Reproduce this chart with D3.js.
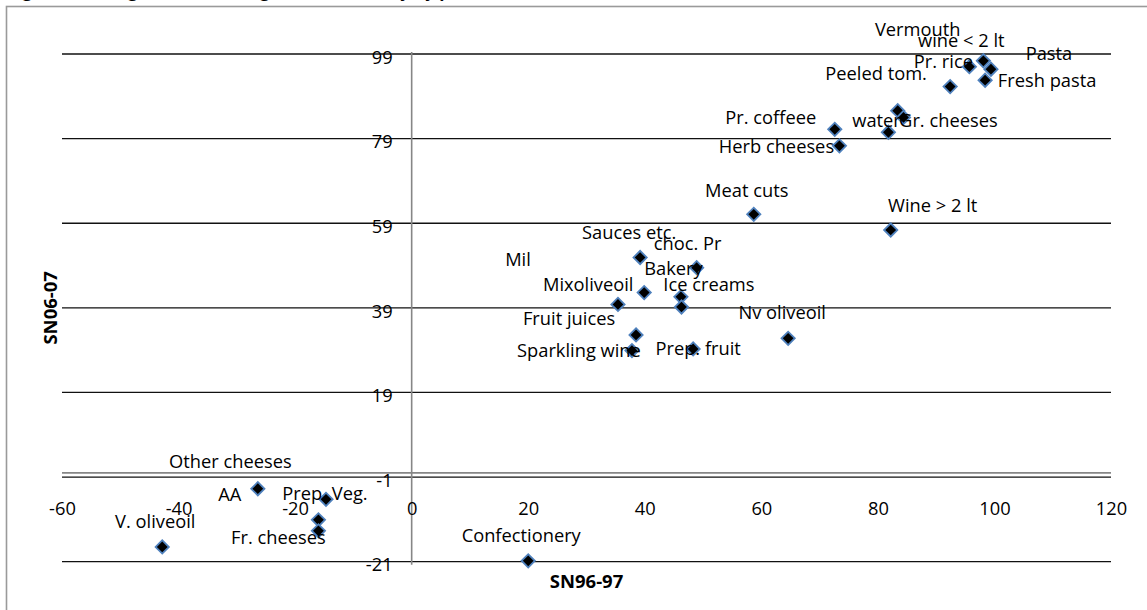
<!DOCTYPE html>
<html>
<head>
<meta charset="utf-8">
<script src="https://cdn.jsdelivr.net/npm/d3@7"></script>
<style>
  body { margin: 0; background: #fff; }
  svg { display: block; }
  text { font-family: "Open Sans", "Liberation Sans", sans-serif; fill: #000; }
</style>
</head>
<body>
<svg id="chart" width="1147" height="610"></svg>
<script>
// Products and their Strength of Nationality scores in the two periods
const products = [
  "wine < 2 lt", "Pr. rice", "Pasta", "Fresh pasta", "Peeled tom.",
  "Vermouth", "water", "Gr. cheeses", "Pr. coffeee", "Herb cheeses",
  "Meat cuts", "Wine > 2 lt", "Sauces etc.", "choc. Pr", "Mixoliveoil",
  "Mil", "Ice creams", "Bakery", "Nv oliveoil", "Fruit juices",
  "Sparkling wine", "Prep. fruit", "AA", "Prep. Veg.", "Other cheeses",
  "Fr. cheeses", "V. oliveoil", "Confectionery"
];
const sn9697 = [
  98.1, 95.7, 99.4, 98.4, 92.4,
  83.4, 84.4, 81.8, 72.6, 73.4,
  58.7, 82.2, 39.2, 48.9, 39.9,
  35.4, 46.2, 46.3, 64.6, 38.5,
  37.8, 48.3, -26.4, -14.7, -16.0,
  -16.0, -42.8, 20.0
];
const sn0607 = [
  97.4, 96.0, 95.4, 92.8, 91.3,
  85.6, 84.0, 80.5, 81.2, 77.3,
  61.1, 57.4, 50.9, 48.5, 42.6,
  39.8, 41.6, 39.2, 31.8, 32.6,
  28.9, 29.3, -3.75, -6.25, -11.1,
  -13.7, -17.5, -20.8
];

// Axis ticks
const xTicks = [-60, -40, -20, 0, 20, 40, 60, 80, 100, 120];
const yTicks = [-21, -1, 19, 39, 59, 79, 99];

// Hand placement of each point label relative to its marker (px)
const labelNudge = [
  [-22, -21], [-26, -6], [58, -17], [62, -1], [-74, -14],
  [20, -82], [-27, 2], [60, -13], [-64, -13], [-63, 0],
  [-7, -25], [42, -26], [-11, -26], [-9, -25], [-56, -9],
  [-100, -46], [28, -13], [-8, -40], [-6, -27], [-67, -17],
  [-53, -1], [5, -1], [-28, 5], [-1, -7], [-88, -59],
  [-40, 6], [-7, -26], [-7, -26]
];

const svg = d3.select("#chart");

const x = d3.scaleLinear().domain([-60, 120]).range([62, 1111]);
const y = d3.scaleLinear().domain([-21, 99]).range([561.7, 54]);

// Plain hyphen-minus for negative tick values
const plainNum = d => String(d);

// Outer chart frame (extends past the visible window on the right and bottom)
svg.append("rect")
  .attr("x", 6.5).attr("y", 6.5)
  .attr("width", 1200).attr("height", 700)
  .attr("fill", "none").attr("stroke", "#9a9a9a").attr("stroke-width", 1.6);

// Caption sitting above the frame
svg.append("text")
  .attr("x", 8).attr("y", -3.5)
  .attr("font-size", 17).attr("font-weight", "bold")
  .text("Figure 6: Changes in the Strength of Nationality by product (1996-97, 2006-07)");

// Horizontal gridlines
svg.append("g")
  .selectAll("line")
  .data(yTicks)
  .join("line")
  .attr("x1", x(-60)).attr("x2", x(120))
  .attr("y1", d => y(d)).attr("y2", d => y(d))
  .attr("stroke", "#111").attr("stroke-width", 1.3);

// Horizontal axis line at y = 0
svg.append("line")
  .attr("x1", x(-60)).attr("x2", x(120))
  .attr("y1", y(0)).attr("y2", y(0))
  .attr("stroke", "#868686").attr("stroke-width", 1.6);

// Vertical axis line at x = 0
svg.append("line")
  .attr("x1", x(0)).attr("x2", x(0))
  .attr("y1", y(99) - 2).attr("y2", y(-21) + 3)
  .attr("stroke", "#868686").attr("stroke-width", 1.6);

// Y tick labels (left of the vertical axis)
const yAxis = d3.axisLeft(y).tickValues(yTicks).tickFormat(plainNum).tickSize(0).tickPadding(19);
const gy = svg.append("g").attr("transform", `translate(${x(0)},0)`).call(yAxis);
gy.select(".domain").remove();
gy.selectAll("text")
  .attr("font-size", 18.3)
  .attr("font-family", '"Open Sans", sans-serif')
  .attr("fill", "#000")
  .attr("dy", "0.5em");

// X tick labels
const xAxis = d3.axisBottom(x).tickValues(xTicks).tickFormat(plainNum).tickSize(0).tickPadding(0);
const gx = svg.append("g").attr("transform", `translate(0,${y(0)})`).call(xAxis);
gx.select(".domain").remove();
gx.selectAll("text")
  .attr("font-size", 18.3)
  .attr("font-family", '"Open Sans", sans-serif')
  .attr("fill", "#000")
  .attr("y", 36)
  .attr("dy", "0.35em");

// Axis titles
svg.append("text")
  .attr("x", (x(-60) + x(120)) / 2).attr("y", 580)
  .attr("text-anchor", "middle").attr("dominant-baseline", "central")
  .attr("font-size", 18.5).attr("font-weight", "bold")
  .text("SN96-97");

svg.append("text")
  .attr("transform", `translate(49,${(y(99) + y(-21)) / 2}) rotate(-90)`)
  .attr("text-anchor", "middle").attr("dominant-baseline", "central")
  .attr("font-size", 18.5).attr("font-weight", "bold")
  .text("SN06-07");

// Data points
const points = products.map((name, i) => ({
  name, sx: sn9697[i], sy: sn0607[i], nudge: labelNudge[i]
}));

const diamond = d3.symbol().type(d3.symbolSquare).size(88);

svg.append("g")
  .selectAll("path")
  .data(points)
  .join("path")
  .attr("d", diamond)
  .attr("transform", d => `translate(${x(d.sx)},${y(d.sy)}) rotate(45)`)
  .attr("fill", "#000")
  .attr("stroke", "#4f81bd")
  .attr("stroke-width", 1.8);

// Point labels
svg.append("g")
  .selectAll("text")
  .data(points)
  .join("text")
  .attr("x", d => x(d.sx) + d.nudge[0])
  .attr("y", d => y(d.sy) + d.nudge[1])
  .attr("text-anchor", "middle")
  .attr("dominant-baseline", "central")
  .attr("font-size", 18.3)
  .text(d => d.name);
</script>
</body>
</html>
